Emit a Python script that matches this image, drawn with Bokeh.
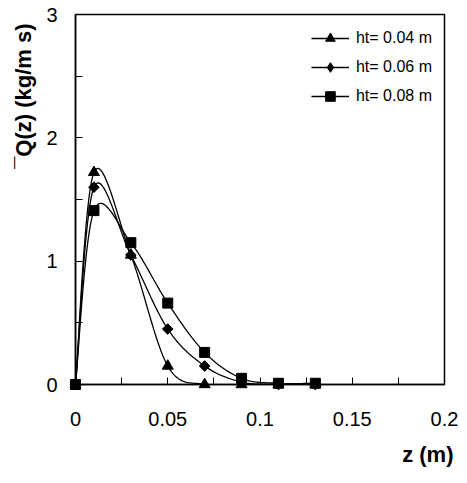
import numpy as np
from bokeh.plotting import figure
from bokeh.models import Range1d, FixedTicker, Legend, LegendItem, Title
from bokeh.embed import file_html
from bokeh.resources import INLINE

# Mean flux profile Q(z) against height z for three values of ht
z = [0, 0.01, 0.03, 0.05, 0.07, 0.09, 0.11, 0.13]
q_ht004 = [0, 1.72, 1.05, 0.15, 0.0, 0.0, 0.0, 0.0]
q_ht006 = [0, 1.60, 1.05, 0.45, 0.15, 0.02, 0.0, 0.0]
q_ht008 = [0, 1.41, 1.15, 0.66, 0.26, 0.05, 0.01, 0.01]
series_labels = ["ht= 0.04 m", "ht= 0.06 m", "ht= 0.08 m"]

x_ticks = [0, 0.05, 0.1, 0.15, 0.2]
x_tick_labels = ["0", "0.05", "0.1", "0.15", "0.2"]
x_minor = [0.025, 0.075, 0.125, 0.175]
y_ticks = [0, 1, 2, 3]
y_minor = [0.5, 1.5, 2.5]

x_title = "z (m)"
y_title = "\u00afQ(z) (kg/m s)"

FONT = "Liberation Sans"


def smooth(xs, ys, n=30):
    """Smoothed line through the points (cubic Bezier, Catmull-Rom tangents)."""
    pts = np.column_stack([xs, ys]).astype(float)
    P = np.vstack([pts[0], pts, pts[-1]])
    out = []
    for i in range(1, len(P) - 2):
        p0, p1, p2, p3 = P[i - 1], P[i], P[i + 1], P[i + 2]
        c1 = p1 + (p2 - p0) / 6.0
        c2 = p2 - (p3 - p1) / 6.0
        t = np.linspace(0, 1, n)[:, None]
        b = ((1 - t) ** 3) * p1 + 3 * ((1 - t) ** 2) * t * c1 \
            + 3 * (1 - t) * t ** 2 * c2 + t ** 3 * p2
        out.append(b if i == 1 else b[1:])
    seg = np.vstack(out)
    return seg[:, 0], seg[:, 1]


p = figure(width=467, height=483, output_backend="svg", toolbar_location=None,
           x_range=Range1d(0, 0.2), y_range=Range1d(0, 3),
           min_border_left=74, min_border_right=23,
           min_border_top=14, min_border_bottom=99)

p.background_fill_color = "white"
p.border_fill_color = "white"
p.outline_line_color = "black"
p.outline_line_width = 1.5
p.xgrid.visible = False
p.ygrid.visible = False

# axes: ticks pointing inwards, minor ticks the same length as major ones
p.xaxis.ticker = FixedTicker(ticks=x_ticks, minor_ticks=x_minor)
p.xaxis.major_label_overrides = {str(v): s for v, s in zip(x_ticks, x_tick_labels)}
p.yaxis.ticker = FixedTicker(ticks=y_ticks, minor_ticks=y_minor)
for ax in (p.xaxis, p.yaxis):
    ax.axis_line_color = "black"
    ax.axis_line_width = 1.5
    ax.major_tick_in = 7
    ax.major_tick_out = 0
    ax.minor_tick_in = 7
    ax.minor_tick_out = 0
    ax.major_tick_line_color = "black"
    ax.minor_tick_line_color = "black"
    ax.major_label_text_font = FONT
    ax.major_label_text_font_size = "20px"
    ax.major_label_text_color = "black"
p.xaxis.major_label_standoff = 27
p.yaxis.major_label_standoff = 18

# axis titles, pushed towards the far end of each axis
p.add_layout(Title(text=x_title, align="right", offset=-9, standoff=22,
                   text_font=FONT, text_font_size="22px",
                   text_font_style="bold", text_color="black"), "below")
p.add_layout(Title(text=y_title, align="right", offset=9, standoff=16,
                   text_font=FONT, text_font_size="22px",
                   text_font_style="bold", text_color="black"), "left")

markers = ["triangle", "square", "square"]
sizes = [11, 7.5, 10]
angles = [0, np.pi / 4, 0]
legend_markers = ["triangle", "diamond", "square"]
items = []
for ys, lab, mk, sz, ang, lmk in zip([q_ht004, q_ht006, q_ht008], series_labels,
                                     markers, sizes, angles, legend_markers):
    sx, sy = smooth(z, ys)
    lr = p.line(sx, sy, line_color="black", line_width=1.3)
    if lmk == mk:
        key = None
    else:
        # narrow key marker sitting inside the rotated squares
        key = p.scatter(z, ys, marker=lmk, size=10,
                        fill_color="black", line_color="black")
    sr = p.scatter(z, ys, marker=mk, size=sz, angle=ang,
                   fill_color="black", line_color="black", level="overlay")
    items.append(LegendItem(label=lab, renderers=[lr, key or sr]))

legend = Legend(items=items, location="top_right",
                border_line_alpha=0, background_fill_alpha=0,
                label_text_font=FONT, label_text_font_size="16px",
                label_text_color="black",
                glyph_width=38, glyph_height=24, label_height=24,
                label_standoff=7, spacing=5, padding=12, margin=0)
p.add_layout(legend)

open("out.html", "w").write(file_html(p, INLINE))
